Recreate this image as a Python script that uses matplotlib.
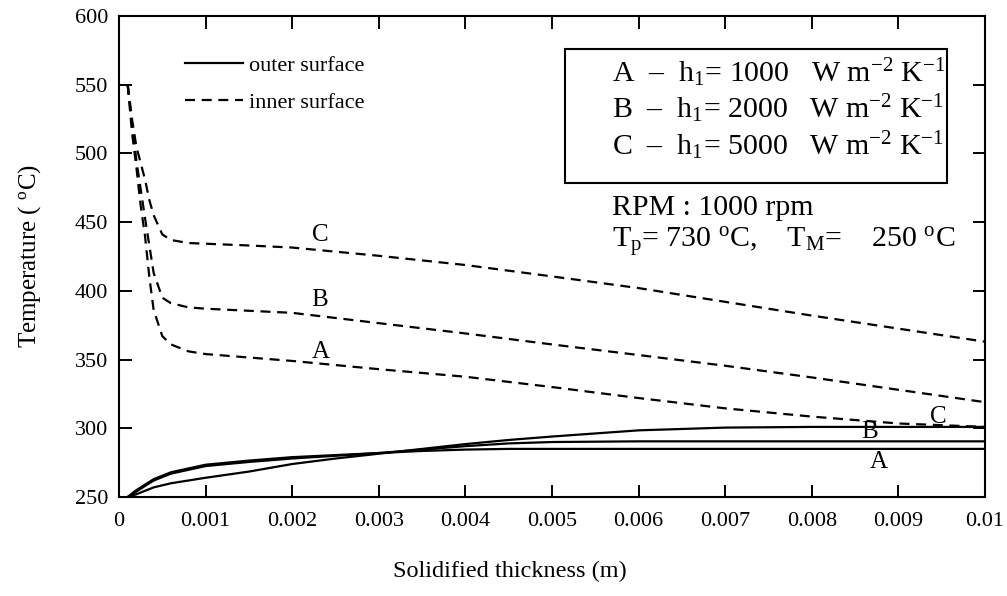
import matplotlib
matplotlib.use("Agg")
import matplotlib.pyplot as plt
from matplotlib.patches import Rectangle
from matplotlib.lines import Line2D

plt.rcParams['font.family'] = ['Liberation Serif', 'DejaVu Serif']
plt.rcParams['mathtext.fontset'] = 'custom'
plt.rcParams['mathtext.rm'] = 'Liberation Serif'
plt.rcParams['mathtext.it'] = 'Liberation Serif:italic'

# Solidified thickness (m)
x_outer = [0.0001, 0.0002, 0.0004, 0.0006, 0.001, 0.0015, 0.002, 0.0025, 0.003,
           0.0035, 0.004, 0.0045, 0.005, 0.006, 0.007, 0.008, 0.009, 0.01]
# Outer-surface temperature (deg C)
outer_A = [250, 254, 262, 267, 272.5, 275.5, 278, 280, 282, 283.5, 284.5, 285,
           285, 285, 285, 285, 285, 285]
outer_B = [250, 255, 263, 268, 273.5, 276.5, 279, 280.5, 282, 284.5, 287, 289,
           290, 290.5, 290.5, 290.5, 290.5, 290.5]
outer_C = [250, 252, 257, 260, 264, 268.5, 274, 278, 281.5, 285, 288.5, 291.5,
           294, 298.5, 300.5, 301, 301, 301]

x_inner = [0.0001, 0.00015, 0.0002, 0.00025, 0.0003, 0.00035, 0.0004, 0.0005,
           0.0006, 0.0008, 0.001, 0.0015, 0.002, 0.003, 0.004, 0.005, 0.006,
           0.007, 0.008, 0.009, 0.01]
# Inner-surface temperature (deg C)
inner_A = [550, 515, 490, 462, 440, 410, 386, 367, 361, 356, 354, 351.5, 349,
           343, 337.5, 330, 322, 314.5, 308.5, 303.5, 301]
inner_B = [550, 522, 495, 474, 453, 433, 413, 395, 391, 388, 387, 385.5, 384,
           376.5, 369, 361, 353.3, 345.5, 337, 328, 319]
inner_C = [550, 525, 505, 493, 481, 466, 455, 441, 437, 434.8, 434.3, 433,
           431.5, 425.5, 418.8, 410.5, 402, 392, 382, 372.5, 363]

x_ticks = [0, 0.001, 0.002, 0.003, 0.004, 0.005, 0.006, 0.007, 0.008, 0.009, 0.01]
x_tick_labels = ['0', '0.001', '0.002', '0.003', '0.004', '0.005', '0.006',
                 '0.007', '0.008', '0.009', '0.01']
y_ticks = [250, 300, 350, 400, 450, 500, 550, 600]

fig = plt.figure(figsize=(10.07, 5.96), dpi=100)
ax = fig.add_axes([0.1182, 0.1661, 0.8600, 0.8071])

lw = 1.6
dash = (4.5, 3.0)
for y in (outer_A, outer_B, outer_C):
    ax.plot(x_outer, y, color='black', lw=lw, solid_capstyle='butt')
for y in (inner_A, inner_B, inner_C):
    ax.plot(x_inner, y, color='black', lw=lw, linestyle=(0, dash))

ax.set_xlim(0, 0.01)
ax.set_ylim(250, 600)
ax.set_xticks(x_ticks)
ax.set_xticklabels(x_tick_labels)
ax.set_yticks(y_ticks)
ax.tick_params(axis='both', which='major', direction='in', length=9, width=1.4,
               top=True, right=True, labelsize=16)
ax.tick_params(axis='x', pad=11)
ax.tick_params(axis='y', pad=8)
for s in ax.spines.values():
    s.set_linewidth(1.5)

ax.set_xlabel('Solidified thickness (m)', fontsize=17.5)
ax.xaxis.set_label_coords(0.451, -0.133)
ax.set_ylabel('Temperature ( $^{\\mathrm{o}}$C)', fontsize=18)
ax.yaxis.set_label_coords(-0.088, 0.5)

# curve labels
lab_kw = dict(fontsize=18, ha='center', va='center')
ax.text(0.00232, 440.6, 'C', **lab_kw)
ax.text(0.00232, 393.3, 'B', **lab_kw)
ax.text(0.00233, 355.7, 'A', **lab_kw)
ax.text(0.00946, 308.4, 'C', **lab_kw)
ax.text(0.00867, 297.5, 'B', **lab_kw)
ax.text(0.00877, 275.6, 'A', **lab_kw)

# line-style key
h_outer = Line2D([], [], color='black', lw=lw)
h_inner = Line2D([], [], color='black', lw=lw, linestyle=(0, dash))
ax.legend([h_outer, h_inner], ['outer surface', 'inner surface'],
          loc='upper left', bbox_to_anchor=(0.053, 0.96), frameon=False,
          fontsize=16, handlelength=2.6, handletextpad=0.3, labelspacing=0.75)

# heat-transfer coefficient box
ax.add_patch(Rectangle((0.515, 0.653), 0.441, 0.278, transform=ax.transAxes,
                       fill=False, lw=1.5, ec='black'))
box_kw = dict(transform=ax.transAxes, fontsize=21.5, ha='left', va='baseline')
ax.text(0.569, 0.8634, 'A  –  h$_1$= 1000   W m$^{-2}$ K$^{-1}$', **box_kw)
ax.text(0.569, 0.788, 'B  –  h$_1$= 2000   W m$^{-2}$ K$^{-1}$', **box_kw)
ax.text(0.569, 0.711, 'C  –  h$_1$= 5000   W m$^{-2}$ K$^{-1}$', **box_kw)
ax.text(0.569, 0.586, 'RPM : 1000 rpm', **box_kw)
ax.text(0.569, 0.5177, 'T$_\\mathrm{p}$= 730 $^{\\mathrm{o}}$C,    T$_\\mathrm{M}$=    250 $^{\\mathrm{o}}$C',
        **box_kw)

fig.savefig('out.png', dpi=100)
